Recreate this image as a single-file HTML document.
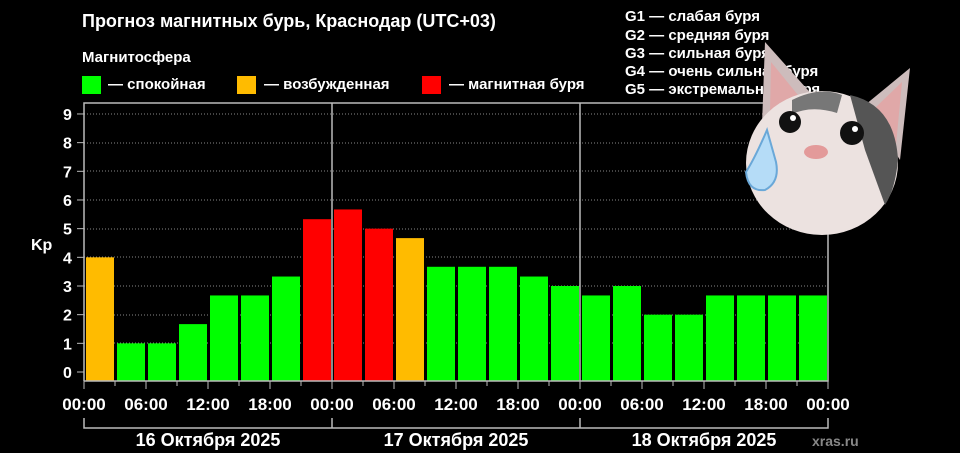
<!DOCTYPE html>
<html><head><meta charset="utf-8"><style>
html,body{margin:0;padding:0;background:#000;width:960px;height:453px;overflow:hidden}
text{font-family:"Liberation Sans",sans-serif;font-weight:bold;fill:#fff}
</style></head><body>
<svg width="960" height="453" viewBox="0 0 960 453" xmlns="http://www.w3.org/2000/svg">
<text x="82" y="27" font-size="18">Прогноз магнитных бурь, Краснодар (UTC+03)</text>
<text x="82" y="62" font-size="15">Магнитосфера</text>
<rect x="82" y="76" width="19" height="18" fill="#00ff00"/><text x="108" y="89" font-size="15">— спокойная</text>
<rect x="237" y="76" width="19" height="18" fill="#ffbb00"/><text x="264" y="89" font-size="15">— возбужденная</text>
<rect x="422" y="76" width="19" height="18" fill="#ff0000"/><text x="449" y="89" font-size="15">— магнитная буря</text>
<g font-size="15">
<text x="625" y="21">G1 — слабая буря</text>
<text x="625" y="40">G2 — средняя буря</text>
<text x="625" y="58">G3 — сильная буря</text>
<text x="625" y="76">G4 — очень сильная буря</text>
<text x="625" y="94">G5 — экстремальная буря</text>
</g>
<text x="31" y="250" font-size="16">Kp</text>
<g id="grid" stroke="#888" stroke-dasharray="1,2" stroke-width="1">
<line x1="84" x2="828" y1="114" y2="114"/><line x1="84" x2="828" y1="143" y2="143"/>
<line x1="84" x2="828" y1="171" y2="171"/><line x1="84" x2="828" y1="200" y2="200"/>
<line x1="84" x2="828" y1="229" y2="229"/><line x1="84" x2="828" y1="257" y2="257"/>
<line x1="84" x2="828" y1="286" y2="286"/><line x1="84" x2="828" y1="315" y2="315"/>
<line x1="84" x2="828" y1="343" y2="343"/>
</g>
<g id="bars"></g>
<g stroke="#bbb" stroke-width="1.5" fill="none">
<polyline points="84,381 84,103 828,103 828,381 84,381"/>
<line x1="332" y1="103" x2="332" y2="381"/>
<line x1="580" y1="103" x2="580" y2="381"/>
</g>
<g id="yt" font-size="16"></g>
<g id="xt" font-size="17"></g>
<g stroke="#bbb" stroke-width="1.5" fill="none">
<polyline points="84,418 84,428 828,428 828,418"/>
<line x1="332" y1="418" x2="332" y2="428"/><line x1="580" y1="418" x2="580" y2="428"/>
</g>
<g font-size="18" text-anchor="middle">
<text x="208" y="446">16 Октября 2025</text>
<text x="456" y="446">17 Октября 2025</text>
<text x="704" y="446">18 Октября 2025</text>
</g>
<text x="812" y="446" font-size="14" style="fill:#888">xras.ru</text>
<!-- cat -->
<g>
<polygon points="762,125 765,42 815,98" fill="#cdbcbc"/>
<polygon points="865,105 910,68 900,160" fill="#cdbcbc"/>
<polygon points="770,112 771,62 802,100" fill="#e0a8a8"/>
<polygon points="875,108 902,82 896,145" fill="#e0a8a8"/>
<ellipse cx="822" cy="163" rx="76" ry="72" fill="#ece2e0"/>
<path d="M850,95 Q895,105 898,160 Q895,190 885,205 L865,150 Z" fill="#555"/>
<path d="M792,100 Q820,86 842,95 L837,113 Q812,105 792,114Z" fill="#777"/>
<circle cx="790" cy="122" r="11" fill="#111"/><circle cx="852" cy="133" r="12" fill="#111"/>
<circle cx="793" cy="118" r="3" fill="#fff"/><circle cx="855" cy="129" r="3" fill="#fff"/>
<ellipse cx="816" cy="152" rx="12" ry="7" fill="#e39a9a"/>
<path d="M767,130 Q755,158 746,172 Q748,192 765,190 Q780,182 776,162 Z" fill="#b5dcf7" stroke="#6aa8d8" stroke-width="2"/>
</g>
</svg>
<script>
var vals=[4,1,1,1.67,2.67,2.67,3.33,5.33,5.67,5,4.67,3.67,3.67,3.67,3.33,3,2.67,3,2,2,2.67,2.67,2.67,2.67];
var col=function(i,v){return v>=5?'#ff0000':(v>=4?'#ffbb00':'#00ff00')};
var ns='http://www.w3.org/2000/svg',b=document.getElementById('bars');
vals.forEach(function(v,i){var r=document.createElementNS(ns,'rect');var y=372-v*28.67;
r.setAttribute('x',86+i*31);r.setAttribute('width',28);r.setAttribute('y',y);r.setAttribute('height',381-y);r.setAttribute('fill',col(i,v));b.appendChild(r);});
var yt=document.getElementById('yt');
for(var k=0;k<=9;k++){var y=372-k*28.67;var t=document.createElementNS(ns,'text');t.setAttribute('x',63);t.setAttribute('y',y+6);t.textContent=k;yt.appendChild(t);
var l=document.createElementNS(ns,'line');l.setAttribute('x1',77);l.setAttribute('x2',84);l.setAttribute('y1',y);l.setAttribute('y2',y);l.setAttribute('stroke','#bbb');yt.appendChild(l);}
var xt=document.getElementById('xt');var labs=['00:00','06:00','12:00','18:00'];
for(var j=0;j<=24;j++){var x=84+j*31;var l=document.createElementNS(ns,'line');l.setAttribute('x1',x);l.setAttribute('x2',x);l.setAttribute('y1',381);l.setAttribute('y2',j%2==0?389:386);l.setAttribute('stroke','#bbb');xt.appendChild(l);
if(j%2==0){var t=document.createElementNS(ns,'text');t.setAttribute('x',x);t.setAttribute('y',410);t.setAttribute('text-anchor','middle');t.textContent=labs[(j/2)%4];xt.appendChild(t);}}
</script>
</body></html>
